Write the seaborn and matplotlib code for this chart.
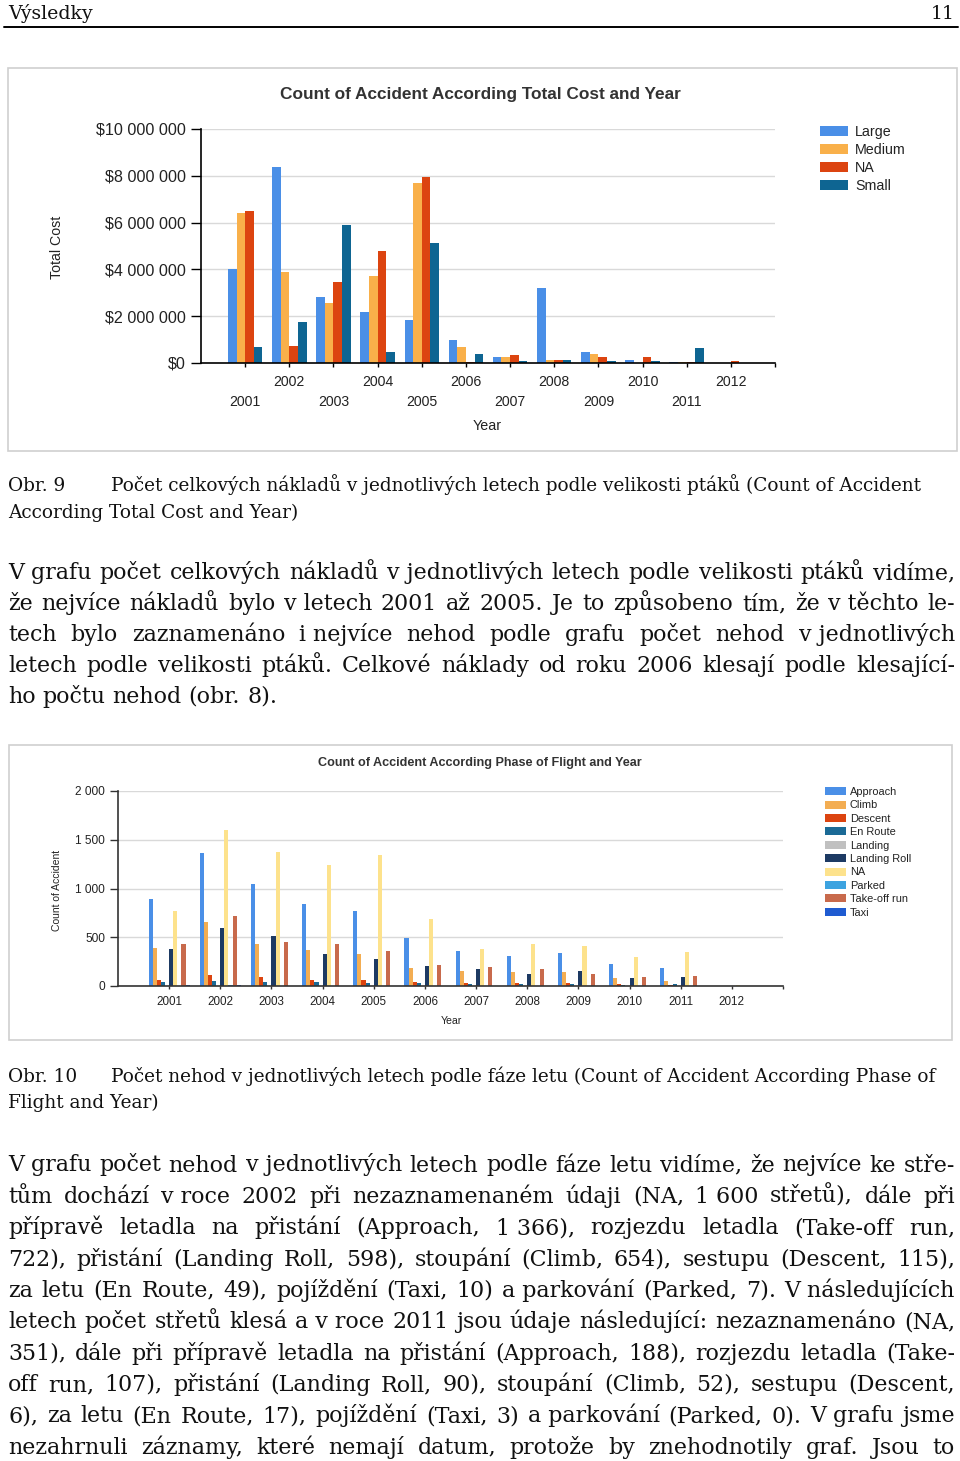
import numpy as np
import pandas as pd
import matplotlib
matplotlib.use("Agg")
import matplotlib.pyplot as plt
import seaborn as sns
from matplotlib.patches import Rectangle
from matplotlib.lines import Line2D

W, H = 960, 1461

# ---------------- data ----------------
years = ["2001", "2002", "2003", "2004", "2005", "2006",
         "2007", "2008", "2009", "2010", "2011", "2012"]

# Chart 1: total cost (USD) by bird size
cost_sizes = ["Large", "Medium", "NA", "Small"]
cost_colors = ["#4a8fe7", "#f9b04a", "#dc4410", "#0e6592"]
cost_large = [4.00e6, 8.39e6, 2.83e6, 2.17e6, 1.84e6, 1.00e6, 0.24e6, 3.19e6, 0.46e6, 0.13e6, 0.04e6, 0.0]
cost_medium = [6.39e6, 3.89e6, 2.57e6, 3.73e6, 7.69e6, 0.67e6, 0.24e6, 0.13e6, 0.40e6, 0.01e6, 0.04e6, 0.0]
cost_na = [6.51e6, 0.71e6, 3.46e6, 4.79e6, 7.96e6, 0.06e6, 0.34e6, 0.13e6, 0.24e6, 0.24e6, 0.04e6, 0.07e6]
cost_small = [0.67e6, 1.74e6, 5.89e6, 0.46e6, 5.13e6, 0.40e6, 0.07e6, 0.13e6, 0.07e6, 0.07e6, 0.63e6, 0.0]
cost_ticks = [0, 2e6, 4e6, 6e6, 8e6, 10e6]
cost_tick_labels = ["$0", "$2 000 000", "$4 000 000", "$6 000 000", "$8 000 000", "$10 000 000"]

# Chart 2: count of accidents by phase of flight
phases = ["Approach", "Climb", "Descent", "En Route", "Landing",
          "Landing Roll", "NA", "Parked", "Take-off run", "Taxi"]
phase_colors = ["#4a8fe7", "#f3ad52", "#dc4410", "#1b6a96", "#c0c0c0",
                "#1d3a63", "#fde28c", "#3da3e0", "#c86a4c", "#1f5bd1"]
cnt_approach = [897, 1366, 1051, 836, 771, 497, 356, 308, 339, 229, 188, 3]
cnt_climb = [394, 654, 432, 370, 332, 182, 154, 144, 144, 86, 52, 4]
cnt_descent = [65, 115, 89, 65, 65, 41, 27, 27, 27, 17, 6, 2]
cnt_enroute = [45, 49, 45, 41, 27, 27, 17, 17, 17, 12, 17, 2]
cnt_landing = [0, 0, 0, 0, 0, 0, 0, 0, 0, 0, 0, 0]
cnt_landing_roll = [380, 598, 517, 332, 281, 202, 178, 127, 154, 86, 90, 5]
cnt_na = [774, 1600, 1370, 1236, 1339, 685, 384, 432, 411, 301, 351, 8]
cnt_parked = [5, 7, 5, 4, 3, 2, 2, 2, 1, 1, 0, 0]
cnt_takeoff = [432, 722, 455, 435, 356, 219, 192, 178, 127, 96, 107, 5]
cnt_taxi = [8, 10, 5, 5, 4, 3, 3, 2, 2, 2, 3, 1]
count_ticks = [0, 500, 1000, 1500, 2000]
count_tick_labels = ["0", "500", "1 000", "1 500", "2 000"]

# ---------------- text ----------------
NB = "\u00a0"
header_left = "Výsledky"
header_right = "11"
cap1_label = "Obr. 9"
cap1_lines = ["Počet celkových nákladů v jednotlivých letech podle velikosti ptáků (Count of Accident",
              "According Total Cost and Year)"]
para1 = [
    f"V{NB}grafu počet celkových nákladů v{NB}jednotlivých letech podle velikosti ptáků vidíme,",
    f"že nejvíce nákladů bylo v{NB}letech 2001 až 2005. Je to způsobeno tím, že v{NB}těchto le-",
    f"tech bylo zaznamenáno i{NB}nejvíce nehod podle grafu počet nehod v{NB}jednotlivých",
    "letech podle velikosti ptáků. Celkové náklady od roku 2006 klesají podle klesající-",
    "ho počtu nehod (obr. 8).",
]
cap2_label = "Obr. 10"
cap2_lines = ["Počet nehod v jednotlivých letech podle fáze letu (Count of Accident According Phase of",
              "Flight and Year)"]
para2 = [
    f"V{NB}grafu počet nehod v{NB}jednotlivých letech podle fáze letu vidíme, že nejvíce ke stře-",
    f"tům dochází v{NB}roce 2002 při nezaznamenaném údaji (NA, 1{NB}600 střetů), dále při",
    f"přípravě letadla na přistání (Approach, 1{NB}366), rozjezdu letadla (Take-off run,",
    "722), přistání (Landing Roll, 598), stoupání (Climb, 654), sestupu (Descent, 115),",
    f"za letu (En Route, 49), pojíždění (Taxi, 10) a{NB}parkování (Parked, 7). V{NB}následujících",
    f"letech počet střetů klesá a{NB}v{NB}roce 2011 jsou údaje následující: nezaznamenáno (NA,",
    "351), dále při přípravě letadla na přistání (Approach, 188), rozjezdu letadla (Take-",
    "off run, 107), přistání (Landing Roll, 90), stoupání (Climb, 52), sestupu (Descent,",
    f"6), za letu (En Route, 17), pojíždění (Taxi, 3) a{NB}parkování (Parked, 0). V{NB}grafu jsme",
    "nezahrnuli záznamy, které nemají datum, protože by znehodnotily graf. Jsou to",
]

# ---------------- setup ----------------
sns.set_style("white")
SANS = ["Liberation Sans", "DejaVu Sans"]
SERIF = ["DejaVu Serif"]
plt.rcParams["font.family"] = SANS

fig = plt.figure(figsize=(W / 100, H / 100), dpi=100)
fig.patch.set_facecolor("white")
renderer = fig.canvas.get_renderer()


def fx(x):
    return x / W


def fy(y):
    return 1 - y / H


def measure(s, size, family, weight="normal"):
    t = fig.text(0, 0, s, fontsize=size, family=family, fontweight=weight)
    w = t.get_window_extent(renderer).width
    t.remove()
    return w


def fit_size(s, target, family, weight="normal"):
    return 10.0 * target / measure(s, 10.0, family, weight)


def ptext(x, y, s, **kw):
    return fig.text(fx(x), fy(y), s, **kw)


# ---------------- page furniture ----------------
hsize = fit_size(header_left, 85, SERIF)
ptext(8, 19, header_left, fontsize=hsize, family=SERIF, va="baseline", ha="left", color="#111")
ptext(955, 19, header_right, fontsize=hsize, family=SERIF, va="baseline", ha="right", color="#111")
fig.add_artist(Line2D([fx(4), fx(958)], [fy(26.5), fy(26.5)], transform=fig.transFigure,
                      color="black", lw=1.4))

for (x0, y0, x1, y1) in [(8, 68, 957, 451), (9, 745, 952, 1040)]:
    fig.add_artist(Rectangle((fx(x0), fy(y1)), (x1 - x0) / W, (y1 - y0) / H,
                             transform=fig.transFigure, fill=False,
                             edgecolor="#cfcfcf", lw=1.2))

# ---------------- chart helpers ----------------
def style_axes(ax, ticks, tick_labels, ymax, ylabsize, xlabsize, ylen, xlen, spine_color):
    ax.set_xlim(-1, 12)
    ax.set_ylim(0, ymax)
    ax.set_yticks(ticks)
    ax.set_yticklabels(tick_labels)
    ax.set_xticks(range(13))
    ax.set_xticklabels(years + [""])
    ax.set_xlabel("")
    ax.set_ylabel("")
    ax.grid(axis="y", color="#d9d9d9", lw=1)
    ax.grid(axis="x", visible=False)
    ax.set_axisbelow(True)
    for s in ["top", "right"]:
        ax.spines[s].set_visible(False)
    for s in ["left", "bottom"]:
        ax.spines[s].set_color(spine_color)
        ax.spines[s].set_linewidth(1.2)
    ax.tick_params(axis="y", length=ylen, width=1, pad=3.6, labelsize=ylabsize,
                   color=spine_color, labelcolor="#222", left=True)
    ax.tick_params(axis="x", length=xlen, width=1, labelsize=xlabsize,
                   color=spine_color, labelcolor="#222", bottom=True)
    ax.set_facecolor("white")


def move_legend(ax, x, y, size, hl, hh, tp, ls):
    leg = ax.get_legend()
    handles = leg.legend_handles
    labels = [t.get_text() for t in leg.get_texts()]
    leg.remove()
    ax.legend(handles, labels, loc="upper left", bbox_to_anchor=(fx(x), fy(y)),
              bbox_transform=fig.transFigure, frameon=False, fontsize=size,
              handlelength=hl, handleheight=hh, handletextpad=tp, labelspacing=ls,
              borderpad=0, borderaxespad=0, labelcolor="#222")


# ---------------- chart 1 ----------------
df1 = pd.DataFrame({
    "Year": years * 4,
    "Size": np.repeat(cost_sizes, len(years)),
    "Cost": cost_large + cost_medium + cost_na + cost_small,
})
ax1 = fig.add_axes([fx(201), fy(363), (775 - 201) / W, (363 - 129) / H])
sns.barplot(data=df1, x="Year", y="Cost", hue="Size", order=years, hue_order=cost_sizes,
            palette=cost_colors, saturation=1, width=0.78, errorbar=None,
            edgecolor="none", linewidth=0, ax=ax1)
style_axes(ax1, cost_ticks, cost_tick_labels, 10e6, 11.6, 10.2, 7.2, 3.0, "black")
for i, tk in enumerate(ax1.xaxis.get_major_ticks()):
    tk.set_pad(20.4 if i % 2 == 0 else 5.6)
move_legend(ax1, 820, 125, 10.3, 1.95, 0.7, 0.5, 0.29)

t1 = "Count of Accident According Total Cost and Year"
ptext(480, 94, t1, fontsize=fit_size(t1, 402, SANS, "bold"), fontweight="bold",
      ha="center", va="center", color="#333")
ptext(57, 247, "Total Cost", fontsize=fit_size("Total Cost", 63, SANS), rotation=90,
      ha="center", va="center", color="#222")
ptext(487, 426, "Year", fontsize=10.3, ha="center", va="center", color="#222")

# ---------------- chart 2 ----------------
cnt_all = (cnt_approach + cnt_climb + cnt_descent + cnt_enroute + cnt_landing +
           cnt_landing_roll + cnt_na + cnt_parked + cnt_takeoff + cnt_taxi)
df2 = pd.DataFrame({
    "Year": years * len(phases),
    "Phase": np.repeat(phases, len(years)),
    "Count": cnt_all,
})
ax2 = fig.add_axes([fx(118), fy(986), (783 - 118) / W, (986 - 791) / H])
sns.barplot(data=df2, x="Year", y="Count", hue="Phase", order=years, hue_order=phases,
            palette=phase_colors, saturation=1, width=0.8, errorbar=None,
            edgecolor="none", linewidth=0, ax=ax2)
style_axes(ax2, count_ticks, count_tick_labels, 2000, 8.6, 8.4, 5.8, 2.5, "#333")
for tk in ax2.xaxis.get_major_ticks():
    tk.set_pad(4.8)
move_legend(ax2, 825, 787, 7.9, 1.9, 0.73, 0.36, 0.31)

t2 = "Count of Accident According Phase of Flight and Year"
ptext(480, 763, t2, fontsize=fit_size(t2, 323, SANS, "bold"), fontweight="bold",
      ha="center", va="center", color="#333")
ptext(57, 890, "Count of Accident", fontsize=fit_size("Count of Accident", 82, SANS), rotation=90,
      ha="center", va="center", color="#222")
ptext(451, 1021, "Year", fontsize=7.6, ha="center", va="center", color="#222")

# ---------------- body text ----------------
def justified_lines(lines, baselines, size, x0, x1, last_justified):
    sp = measure("x x", size, SERIF) - measure("xx", size, SERIF)
    for k, (line, yb) in enumerate(zip(lines, baselines)):
        words = line.split(" ")
        ws = [measure(w, size, SERIF) for w in words]
        justify = (k < len(lines) - 1) or last_justified
        gap = (x1 - x0 - sum(ws)) / (len(words) - 1) if (justify and len(words) > 1) else sp
        x = x0
        for w, wd in zip(words, ws):
            ptext(x, yb, w, fontsize=size, family=SERIF, ha="left", va="baseline", color="#111")
            x += wd + gap


all_lines = para1[:-1] + para2
ratios = [947.0 / (sum(measure(w, 10, SERIF) for w in l.split(" ")) +
                   (len(l.split(" ")) - 1) * (measure("x x", 10, SERIF) - measure("xx", 10, SERIF)))
          for l in all_lines]
body_size = 10.0 * min(ratios) * 0.995

cap_size = 0.5 * (fit_size(cap1_lines[0], 821, SERIF) + fit_size(cap2_lines[0], 830, SERIF))

# caption 1
ptext(8, 491, cap1_label, fontsize=cap_size, family=SERIF, va="baseline", color="#111")
ptext(111, 491, cap1_lines[0], fontsize=cap_size, family=SERIF, va="baseline", color="#111")
ptext(8, 517.5, cap1_lines[1], fontsize=cap_size, family=SERIF, va="baseline", color="#111")

justified_lines(para1, [579 + 31 * i for i in range(len(para1))], body_size, 8, 955, False)

# caption 2
ptext(8, 1082, cap2_label, fontsize=cap_size, family=SERIF, va="baseline", color="#111")
ptext(111, 1082, cap2_lines[0], fontsize=cap_size, family=SERIF, va="baseline", color="#111")
ptext(8, 1108, cap2_lines[1], fontsize=cap_size, family=SERIF, va="baseline", color="#111")

justified_lines(para2, [1171.5 + 31.35 * i for i in range(len(para2))], body_size, 8, 955, True)

fig.savefig("out.png", dpi=100, facecolor="white")
